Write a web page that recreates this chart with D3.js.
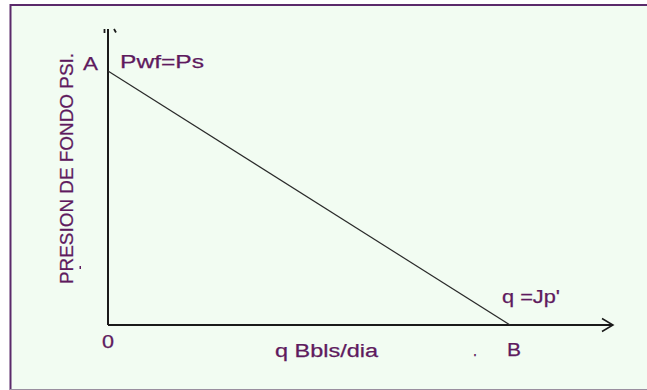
<html><head>
<script src="https://d3js.org/d3.v7.min.js"></script>
<style>
  body { margin: 0; background: #ffffff; overflow: hidden; }
  svg { display: block; }
  text { font-family: Arial, "Liberation Sans", sans-serif; fill: #5e1a5e; stroke: #5e1a5e; stroke-width: 0.25; }
</style>
</head>
<body>
<svg id="ipr" width="647" height="390"></svg>
<script>
  // IPR straight line: caudal q vs presion de fondo (normalized)
  const qValues = [0, 1];
  const pwfValues = [1, 0];
  const pointLabels = ["A", "B"];
  const yTitle = "PRESION DE FONDO PSI.";
  const xTitle = "q Bbls/dia";

  const svg = d3.select("svg#ipr");

  // frame: background plus left / top / bottom edges (no right edge in the picture)
  svg.append("rect")
     .attr("x", 10).attr("y", 4)
     .attr("width", 637).attr("height", 386)
     .attr("fill", "#f2fcf2");
  svg.append("path")
     .attr("d", "M647,5 L10.5,5 L10.5,390")
     .attr("fill", "none")
     .attr("stroke", "#5b2a6b")
     .attr("stroke-width", 2);
  svg.append("line")
     .attr("x1", 10).attr("x2", 647).attr("y1", 389.5).attr("y2", 389.5)
     .attr("stroke", "#9a8fa0").attr("stroke-width", 1);

  let x = d3.scaleLinear().domain([0, 1]).range([108, 510]);
  let y = d3.scaleLinear().domain([0, 1]).range([325, 71]);

  let plot = svg.append("g");

  // axes
  plot.append("line")
      .attr("x1", x(0)).attr("x2", x(0))
      .attr("y1", y(0)).attr("y2", 29)
      .attr("stroke", "#1a1a1a").attr("stroke-width", 2);
  plot.append("line")
      .attr("x1", x(0)).attr("x2", 613)
      .attr("y1", y(0)).attr("y2", y(0))
      .attr("stroke", "#1a1a1a").attr("stroke-width", 2);
  // arrow head
  plot.append("path")
      .attr("d", `M602,318.5 L613,${y(0)} L602,331.5`)
      .attr("fill", "none").attr("stroke", "#1a1a1a").attr("stroke-width", 1.5);
  // little marks at top of y axis
  plot.append("path")
      .attr("d", "M104.5,29 L104.5,33 M114,29 L116,32.5")
      .attr("stroke", "#1a1a1a").attr("stroke-width", 1.8);

  // the IPR line
  let lineGen = d3.line().x(d => x(d[0])).y(d => y(d[1]));
  plot.append("path")
      .datum(d3.zip(qValues, pwfValues))
      .attr("d", lineGen)
      .attr("fill", "none")
      .attr("stroke", "#2a2a2a")
      .attr("stroke-width", 1.2);

  function label(txt, px, py, len, size) {
    let t = plot.append("text")
        .attr("x", px).attr("y", py)
        .attr("font-size", size || 18)
        .text(txt);
    if (len) t.attr("textLength", len).attr("lengthAdjust", "spacingAndGlyphs");
    return t;
  }

  label(pointLabels[0], x(0) - 25, y(1) - 1, 15);
  label("Pwf=Ps", x(0) + 12, y(1) - 3, 84);
  label("q =Jp'", x(1) - 8, y(0) - 22, 58);
  label(pointLabels[1], x(1) - 3, y(0) + 31, 14);
  label(".", x(1) - 37, y(0) + 31, 4);
  label("0", x(0) - 6, y(0) + 23, 12);
  label(xTitle, 275, y(0) + 32, 103);

  plot.append("text")
      .attr("transform", `translate(73, 284) rotate(-90)`)
      .attr("font-size", 19)
      .attr("textLength", 231)
      .attr("lengthAdjust", "spacingAndGlyphs")
      .text(yTitle);
  plot.append("rect")
      .attr("x", 79.5).attr("y", 266).attr("width", 1.5).attr("height", 3)
      .attr("fill", "#5e1a5e");
</script>
</body>
</html>
